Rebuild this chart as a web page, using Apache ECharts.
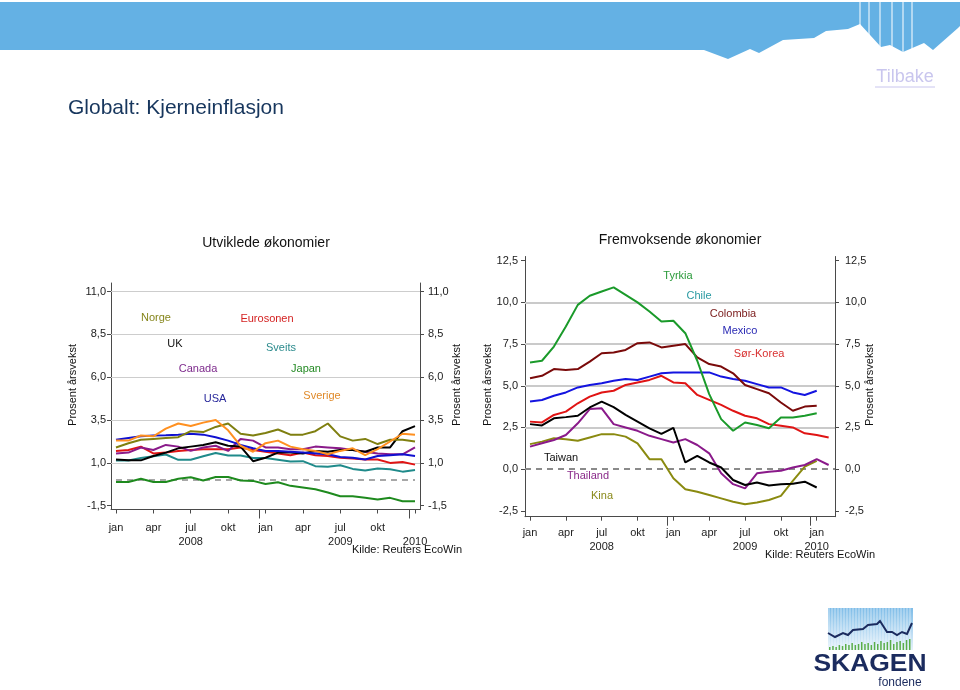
<!DOCTYPE html>
<html><head><meta charset="utf-8">
<script src="https://cdn.jsdelivr.net/npm/echarts@6/dist/echarts.min.js"></script>
<style>html,body{margin:0;padding:0;background:#fff}#c{width:960px;height:690px}</style>
</head><body><div id="c"></div><script>
// ---- Data ----
const months = ['jan 2008','feb 2008','mar 2008','apr 2008','mai 2008','jun 2008','jul 2008','aug 2008','sep 2008','okt 2008','nov 2008','des 2008',
  'jan 2009','feb 2009','mar 2009','apr 2009','mai 2009','jun 2009','jul 2009','aug 2009','sep 2009','okt 2009','nov 2009','des 2009','jan 2010','feb 2010'];
const xTickIdx = [0,3,6,9,12,15,18,21,24];
const xTickMonthL = ['jan','apr','jul','okt','jan','apr','jul','okt',' '];
const xTickMonthR = ['jan','apr','jul','okt','jan','apr','jul','okt','jan'];
const xTickYear = ['','','2008','','','','2009','','2010'];
const yearBoundary = [11.5, 23.5];
const yTicksL = [-1.5, 1, 3.5, 6, 8.5, 11];
const yGridL = [1, 3.5, 6, 8.5, 11];
const yTicksR = [-2.5, 0, 2.5, 5, 7.5, 10, 12.5];
const yGridR = [2.5, 5, 7.5, 10];

// Utviklede økonomier
const norge    = [1.9,2.15,2.35,2.4,2.45,2.5,2.85,2.8,3.1,3.3,2.7,2.6,2.75,2.95,2.65,2.65,2.85,3.3,2.55,2.3,2.4,2.1,2.35,2.35,2.25];
const uk       = [1.2,1.15,1.15,1.4,1.6,1.85,1.95,2.05,2.2,2.0,1.95,1.1,1.3,1.6,1.6,1.55,1.7,1.65,1.75,1.75,1.65,1.9,1.9,2.85,3.15];
const canada   = [1.55,1.6,1.9,1.75,2.05,1.95,1.7,1.9,2.0,1.7,2.4,2.3,1.9,1.9,1.8,1.8,1.95,1.9,1.85,1.75,1.65,1.55,1.5,1.5,1.9];
const usa      = [2.35,2.45,2.55,2.6,2.62,2.65,2.7,2.65,2.5,2.3,2.05,1.85,1.7,1.7,1.65,1.6,1.55,1.5,1.35,1.3,1.2,1.4,1.45,1.5,1.4];
const euro     = [1.7,1.75,1.95,1.55,1.6,1.7,1.75,1.8,1.8,1.8,1.9,1.75,1.65,1.55,1.45,1.6,1.45,1.4,1.3,1.25,1.2,1.2,1.0,1.05,0.9];
const sveits   = [1.14,1.14,1.29,1.39,1.49,1.18,1.18,1.39,1.58,1.43,1.43,1.29,1.29,1.19,1.08,1.1,0.81,0.77,0.86,0.65,0.55,0.67,0.63,0.49,0.59];
const japan    = [-0.11,-0.11,0.07,-0.11,-0.11,0.07,0.16,-0.03,0.18,0.18,-0.03,-0.05,-0.23,-0.13,-0.34,-0.44,-0.54,-0.73,-0.95,-0.95,-1.04,-1.14,-1.04,-1.24,-1.24];
const sverige  = [2.3,2.3,2.6,2.55,3.0,3.3,3.15,3.35,3.5,2.9,2.0,1.65,2.15,2.3,1.95,1.8,1.7,1.5,1.7,1.85,1.45,1.8,2.25,2.7,2.65];

// Fremvoksende økonomier
const tyrkia   = [6.4,6.5,7.35,8.55,9.85,10.4,10.65,10.9,10.45,10.0,9.45,8.85,8.9,8.15,6.5,4.5,3.0,2.3,2.8,2.65,2.45,3.1,3.1,3.2,3.35];
const colombia = [5.45,5.6,6.0,5.95,6.0,6.45,6.95,7.0,7.15,7.55,7.6,7.3,7.4,7.5,6.7,6.3,6.15,5.75,5.05,4.8,4.55,4.0,3.5,3.75,3.8];
const mexico   = [4.05,4.15,4.4,4.6,4.9,5.05,5.15,5.3,5.4,5.35,5.55,5.75,5.8,5.8,5.8,5.8,5.55,5.4,5.3,5.1,4.9,4.9,4.6,4.45,4.7];
const sorkorea = [2.85,2.8,3.25,3.45,3.95,4.35,4.6,4.7,5.05,5.2,5.35,5.6,5.2,5.15,4.45,4.15,3.85,3.5,3.2,3.05,2.7,2.6,2.5,2.15,2.05,1.9];
const taiwan   = [2.7,2.62,3.05,3.12,3.2,3.7,4.05,3.72,3.25,2.85,2.45,2.12,2.48,0.4,0.8,0.4,0.1,-0.65,-0.95,-0.8,-0.98,-0.9,-0.88,-0.75,-1.1];
const thailand = [1.35,1.55,1.75,2.05,2.75,3.6,3.65,2.7,2.5,2.3,2.0,1.8,1.6,1.8,1.45,0.95,-0.25,-0.9,-1.15,-0.25,-0.15,-0.1,0.1,0.25,0.6,0.25];
const kina     = [1.5,1.65,1.85,1.8,1.7,1.9,2.1,2.1,1.95,1.55,0.6,0.6,-0.55,-1.2,-1.35,-1.55,-1.75,-1.95,-2.1,-2.0,-1.85,-1.6,-0.7,0.15,0.5];

// ---- Chart ----
const FONT = '"Liberation Sans", Arial, Helvetica, sans-serif';
const AX = '#4a4a4a';
const fmt = v => (Math.round(v*10)/10).toFixed(1).replace('.', ',');
const pairs = arr => arr.map((v,i)=>[i,v]);

function yAx(gridIndex, position, min, max, ticks, margin){
  return {type:'value', gridIndex, position, min, max,
    axisLine:{show:true, onZero:false, lineStyle:{color:AX, width:1}},
    axisTick:{show:true, customValues:ticks, length:4, inside:false, lineStyle:{color:AX}},
    axisLabel:{customValues:ticks, formatter: fmt, margin, color:'#222', fontSize:11, fontFamily:FONT},
    splitLine:{show:false}};
}
function xAx(gridIndex, min, max, monthTxt, margin){
  return {type:'value', gridIndex, position:'bottom', min, max,
    axisLine:{show:true, onZero:false, lineStyle:{color:AX, width:1}},
    axisTick:{show:true, customValues:xTickIdx, length:4, lineStyle:{color:AX}},
    axisLabel:{customValues:xTickIdx, margin, lineHeight:14, fontSize:11, color:'#222', fontFamily:FONT,
      formatter: v => { const k = xTickIdx.indexOf(Math.round(v)); if (k<0) return ''; return monthTxt[k] + (xTickYear[k] ? '\n' + xTickYear[k] : ''); }},
    splitLine:{show:false}};
}
function xAxLong(gridIndex, min, max){
  return {type:'value', gridIndex, position:'bottom', min, max,
    axisLine:{show:false, onZero:false},
    axisTick:{show:true, customValues:yearBoundary, length:9, lineStyle:{color:AX}},
    axisLabel:{show:false}, splitLine:{show:false}};
}
function line(name, data, color, xi, yi, extra){
  return Object.assign({type:'line', name, data:pairs(data), xAxisIndex:xi, yAxisIndex:yi, showSymbol:false, symbol:'none',
    lineStyle:{color, width:2}, itemStyle:{color}, animation:false, silent:true}, extra||{});
}
function gridMark(vals, color, width, zeroFrom, zeroTo){
  const d = vals.map(v=>({yAxis:v, lineStyle:{color, width, type:'solid'}}));
  if (zeroFrom === null) d.push({yAxis:0, lineStyle:{color:'#8a8a8a', width:2, type:[6,5]}});
  else d.push([{coord:[zeroFrom,0], lineStyle:{color:'#8a8a8a', width:1.6, type:[6,5]}},{coord:[zeroTo,0]}]);
  return {markLine:{silent:true, symbol:['none','none'], label:{show:false}, animation:false, data:d, z:1}};
}

const L = {min:-1.72, max:11.5};
const R = {min:-2.85, max:12.75};

function txt(text, x, y, color, size, extra){
  return Object.assign({type:'text', x, y, silent:true, z:100,
    style:{text, fill:color, font:(size||11)+'px '+FONT, align:'center', verticalAlign:'middle'}}, extra||{});
}

// Banner polygon
const bannerPts = [[0,2],[960,2],[960,26],[958,28],[933,50],[924,43],[903,52],[890,45],[881,47],[860,24],[848,29],[826,31],[814,38],[783,40],[759,53],[750,49],[728,59],[704,50],[0,50]];
const graphics = [
  {type:'polygon', shape:{points:bannerPts}, style:{fill:'#64b1e4'}, silent:true, z:0},
  ...[860,869,880,892,903,912].map(x=>({type:'line', shape:{x1:x,y1:2,x2:x,y2:60}, style:{stroke:'#ffffff', lineWidth:1}, silent:true, z:1})),
  txt('Tilbake', 905, 77, '#c9c6ee', 18),
  {type:'line', shape:{x1:875,y1:87,x2:935,y2:87}, style:{stroke:'#c9c6ee', lineWidth:1}, silent:true},
  {type:'text', x:68, y:108, silent:true, style:{text:'Globalt: Kjerneinflasjon', fill:'#17365d', font:'21px '+FONT, align:'left', verticalAlign:'middle'}},
  txt('Utviklede økonomier', 266, 243, '#111', 14),
  txt('Fremvoksende økonomier', 680, 240, '#111', 14),
  txt('Prosent årsvekst', 73, 385, '#111', 11, {rotation:Math.PI/2}),
  txt('Prosent årsvekst', 457, 385, '#111', 11, {rotation:Math.PI/2}),
  txt('Prosent årsvekst', 488, 385, '#111', 11, {rotation:Math.PI/2}),
  txt('Prosent årsvekst', 870, 385, '#111', 11, {rotation:Math.PI/2}),
  txt('Kilde: Reuters EcoWin', 407, 550, '#111', 11),
  txt('Kilde: Reuters EcoWin', 820, 555, '#111', 11),
  // series labels left
  txt('Norge', 156, 318, '#86861c', 11),
  txt('UK', 175, 344, '#111', 11),
  txt('Canada', 198, 369, '#7d2a8c', 11),
  txt('USA', 215, 399, '#26269a', 11),
  txt('Eurosonen', 267, 319, '#d42222', 11),
  txt('Sveits', 281, 348, '#2a8a8c', 11),
  txt('Japan', 306, 369, '#248a24', 11),
  txt('Sverige', 322, 396, '#e08a2a', 11),
  // series labels right
  txt('Tyrkia', 678, 276, '#2a9a3a', 11),
  txt('Chile', 699, 296, '#2a9aa2', 11),
  txt('Colombia', 733, 314, '#7a1a1a', 11),
  txt('Mexico', 740, 331, '#2a2ab4', 11),
  txt('Sør-Korea', 759, 354, '#d83030', 11),
  txt('Taiwan', 561, 458, '#111', 11),
  txt('Thailand', 588, 476, '#8a2a8a', 11),
  txt('Kina', 602, 496, '#8a8a1a', 11),
  // logo
  {type:'rect', shape:{x:828,y:608,width:85,height:42}, style:{fill:new echarts.graphic.LinearGradient(0,0,0,1,[{offset:0,color:'#7fbde8'},{offset:1,color:'#e6f2fb'}])}, silent:true},
  ...Array.from({length:28},(_,k)=>({type:'line', shape:{x1:829+k*3,y1:608,x2:829+k*3,y2:650}, style:{stroke:'rgba(255,255,255,0.55)', lineWidth:1}, silent:true})),
  ...[3,4,3,5,4,6,5,7,5,6,8,6,7,5,8,6,9,7,8,10,6,8,9,7,10,11].map((h,k)=>({type:'rect', shape:{x:829+k*3.2,y:650-h,width:1.5,height:h}, style:{fill:'#5aae4a'}, silent:true})),
  {type:'polyline', shape:{points:[[828,633],[835,637],[843,633],[848,635],[853,630],[863,629],[868,625],[877,624],[880,621],[887,632],[892,632],[897,635],[902,632],[907,634],[912,623]]}, style:{stroke:'#1b2b5e', lineWidth:2, fill:null}, silent:true},
  {type:'text', x:870, y:665, silent:true, scaleX:1.15, style:{text:'SKAGEN', fill:'#1b2b5e', font:'bold 23px '+FONT, align:'center', verticalAlign:'middle'}},
  {type:'text', x:900, y:683, silent:true, style:{text:'fondene', fill:'#1b2b5e', font:'12px '+FONT, align:'center', verticalAlign:'middle'}}
];

const option = {
  backgroundColor:'#ffffff',
  animation:false,
  grid:[
    {left:111, right:540, top:283, bottom:180.5, containLabel:false},
    {left:525, right:125, top:256.5, bottom:173.3, containLabel:false}
  ],
  xAxis:[ xAx(0,-0.4,24.4,xTickMonthL,11), xAxLong(0,-0.4,24.4), xAx(1,-0.42,25.53,xTickMonthR,9), xAxLong(1,-0.42,25.53) ],
  yAxis:[ yAx(0,'left',L.min,L.max,yTicksL,5), yAx(0,'right',L.min,L.max,yTicksL,8),
          yAx(1,'left',R.min,R.max,yTicksR,7), yAx(1,'right',R.min,R.max,yTicksR,10) ],
  series:[
    line('Japan', japan, '#1e8a1e', 0, 0, gridMark(yGridL, '#cdcdcd', 1, 0, 24)),
    line('Sveits', sveits, '#1f8a8a', 0, 0),
    line('Eurosonen', euro, '#e01414', 0, 0),
    line('Canada', canada, '#8a1a8a', 0, 0),
    line('UK', uk, '#000000', 0, 0),
    line('USA', usa, '#1010d0', 0, 0),
    line('Norge', norge, '#7f7f10', 0, 0),
    line('Sverige', sverige, '#ff9020', 0, 0),
    line('Kina', kina, '#8a8a10', 2, 2, gridMark(yGridR, '#cacaca', 2, null)),
    line('Thailand', thailand, '#8a1a8a', 2, 2),
    line('Taiwan', taiwan, '#000000', 2, 2),
    line('Sør-Korea', sorkorea, '#e01414', 2, 2),
    line('Mexico', mexico, '#1414e0', 2, 2),
    line('Colombia', colombia, '#7a0a0a', 2, 2),
    line('Tyrkia', tyrkia, '#1a9a2a', 2, 2)
  ],
  graphic: graphics
};
const chart = echarts.init(document.getElementById('c'));
chart.setOption(option);
</script></body></html>
